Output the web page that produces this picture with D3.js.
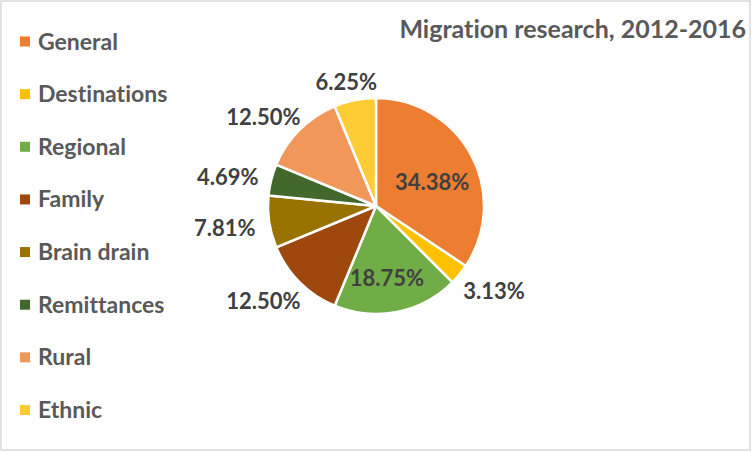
<!DOCTYPE html>
<html>
<head>
<meta charset="utf-8">
<script src="https://cdn.jsdelivr.net/npm/d3@7"></script>
<style>
  body { margin: 0; background: #fff; }
  text { font-family: Lato, "Open Sans", sans-serif; font-weight: bold; font-variant-ligatures: none; }
</style>
</head>
<body>
<div id="chart"></div>
<script>
// counts of papers per topic (64 total)
const categories = ["General", "Destinations", "Regional", "Family", "Brain drain", "Remittances", "Rural", "Ethnic"];
const counts = [22, 2, 12, 8, 5, 3, 8, 4];
const colors = ["#ED7D31", "#FFC000", "#70AD47", "#9E480E", "#997300", "#43682B", "#F1975A", "#FFCD33"];
const insideLabels = ["General", "Regional"];
const title = "Migration research, 2012-2016";

const width = 752
const height = 452
const cx = 376, cy = 206, radius = 108

const svg = d3.select("#chart").append("svg")
    .attr("width", width)
    .attr("height", height)

svg.append("rect")
    .attr("x", 1).attr("y", 1)
    .attr("width", width - 3).attr("height", height - 3)
    .attr("fill", "#fff")
    .attr("stroke", "#D9D9D9")
    .attr("stroke-width", 1.5)

const total = d3.sum(counts)
const data = categories.map((c, i) => ({ name: c, value: counts[i] }))

const color = d3.scaleOrdinal().domain(categories).range(colors)

const pie = d3.pie().sort(null).value(d => d.value)
const arc = d3.arc().innerRadius(0).outerRadius(radius)
const arcs = pie(data)

const g = svg.append("g").attr("transform", `translate(${cx},${cy})`)

g.selectAll("path").data(arcs).enter().append("path")
    .attr("d", arc)
    .attr("fill", d => color(d.data.name))
    .attr("stroke", "#fff")
    .attr("stroke-width", 2.5)
    .attr("stroke-linejoin", "round")

const fmt = v => (v / total * 100).toFixed(2) + "%"

// data labels: inside for the big slices, outside-end for the rest
const labels = g.selectAll("text.lbl").data(arcs).enter().append("text")
    .attr("class", "lbl")
    .attr("fill", "#404040")
    .attr("font-size", 22)
    .attr("text-anchor", "middle")
    .text(d => fmt(d.data.value))

labels.each(function (d) {
    const a = (d.startAngle + d.endAngle) / 2
    const ux = Math.sin(a), uy = -Math.cos(a)
    const el = d3.select(this)
    const capH = 16
    if (insideLabels.includes(d.data.name)) {
        const r = 66
        el.attr("x", ux * r - 2).attr("y", uy * r + 7 + capH / 2)
    } else {
        const w = this.getComputedTextLength()
        const r = 122
        const x = ux * r + ux * w / 2
        const y = uy * r + uy * capH / 2 + capH / 2 + 3
        el.attr("x", x).attr("y", y)
    }
})

// legend
const ly = d3.scalePoint().domain(categories).range([41.5, 410])
const legend = svg.append("g").selectAll("g").data(categories).enter().append("g")
    .attr("transform", d => `translate(20,${ly(d)})`)

legend.append("rect")
    .attr("x", 0).attr("y", -5)
    .attr("width", 10).attr("height", 10)
    .attr("fill", d => color(d))

legend.append("text")
    .attr("x", 18).attr("y", 8)
    .attr("fill", "#595959")
    .attr("font-size", 23)
    .text(d => d)

svg.append("text")
    .attr("x", 746).attr("y", 38)
    .attr("text-anchor", "end")
    .attr("fill", "#595959")
    .attr("font-size", 25)
    .text(title)
</script>
</body>
</html>
